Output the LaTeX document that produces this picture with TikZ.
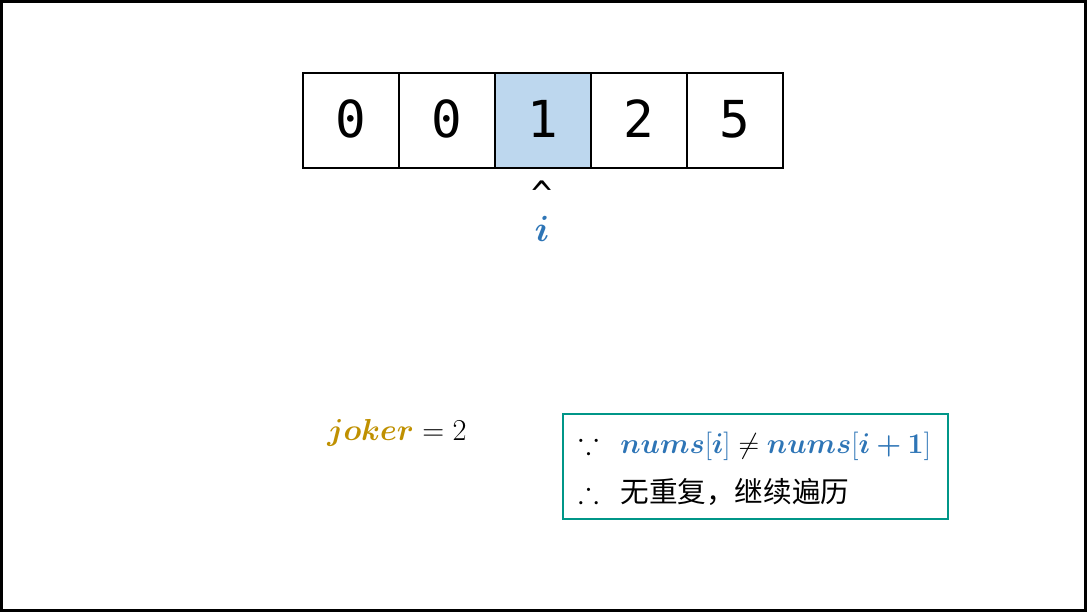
\documentclass[tikz,border=0pt]{standalone}
\usepackage{amsmath,amssymb}
\usepackage{bm}
\usepackage{fontspec}
\newfontfamily\cjk{Noto Sans CJK SC}
\newfontfamily\cellfont{DejaVu Sans Mono}
\usetikzlibrary{positioning}
\definecolor{cellblue}{RGB}{189,215,238}
\definecolor{idxblue}{RGB}{46,117,182}
\definecolor{jokergold}{RGB}{191,144,0}
\definecolor{boxteal}{RGB}{0,150,136}
\tikzset{
  cellbox/.style={rectangle,draw=black,line width=1.1pt,minimum width=1.92cm,minimum height=1.9cm,
    inner sep=0pt,outer sep=0pt,font=\cellfont\fontsize{29}{32}\selectfont},
  curcell/.style={cellbox,fill=cellblue},
  markfont/.style={font=\fontsize{18}{22}\selectfont},
  reasonbox/.style={rectangle,draw=boxteal,line width=1pt,minimum width=7.7cm,minimum height=2.1cm,inner sep=0pt},
  reasontext/.style={anchor=west,inner sep=0pt,font=\fontsize{17.5}{21}\selectfont}
}
\newcommand{\nums}{\boldsymbol{nums}}

\begin{document}
\begin{tikzpicture}[x=0.02cm,y=-0.02cm]
  \useasboundingbox (0,0) rectangle (1087,612);
  \draw[line width=1.6pt] (1.5,1.5) rectangle (1085.5,610.5);

  % array
  \node[cellbox] (c0) at (351,120.5) {\raisebox{2pt}{0}};
  \node[cellbox,right=0pt of c0] (c1) {\raisebox{2pt}{0}};
  \node[curcell,right=0pt of c1] (c2) {\raisebox{2pt}{1}};
  \node[cellbox,right=0pt of c2] (c3) {\raisebox{2pt}{2}};
  \node[cellbox,right=0pt of c3] (c4) {\raisebox{2pt}{5}};

  % pointer
  \node[font=\cellfont\fontsize{20}{22}\selectfont,inner sep=0pt,text depth=0pt] (caret) at (542,194) {\symbol{94}};
  \node[font=\fontsize{20}{24}\selectfont,inner sep=0pt,text=idxblue] (idx) at (542,229) {$\bm{i}$};

  \node[markfont,inner sep=0pt] (joker) at (397,433)
    {$\textcolor{jokergold}{\bm{joker}} = 2$};

  % reason
  \node[reasonbox] (reason) at (755.5,466.5) {};
  \node[reasontext] (because) at (578,446)
    {$\because$\hspace{0.7em}\scalebox{0.94}{$\textcolor{idxblue}{\nums[\bm{i}]} \neq \textcolor{idxblue}{\nums[\bm{i+1}]}$}};
  \node[reasontext] (therefore) at (578,492)
    {$\therefore$\hspace{0.7em}{\cjk\fontsize{16.3}{20}\selectfont 无重复，继续遍历}};
\end{tikzpicture}
\end{document}
